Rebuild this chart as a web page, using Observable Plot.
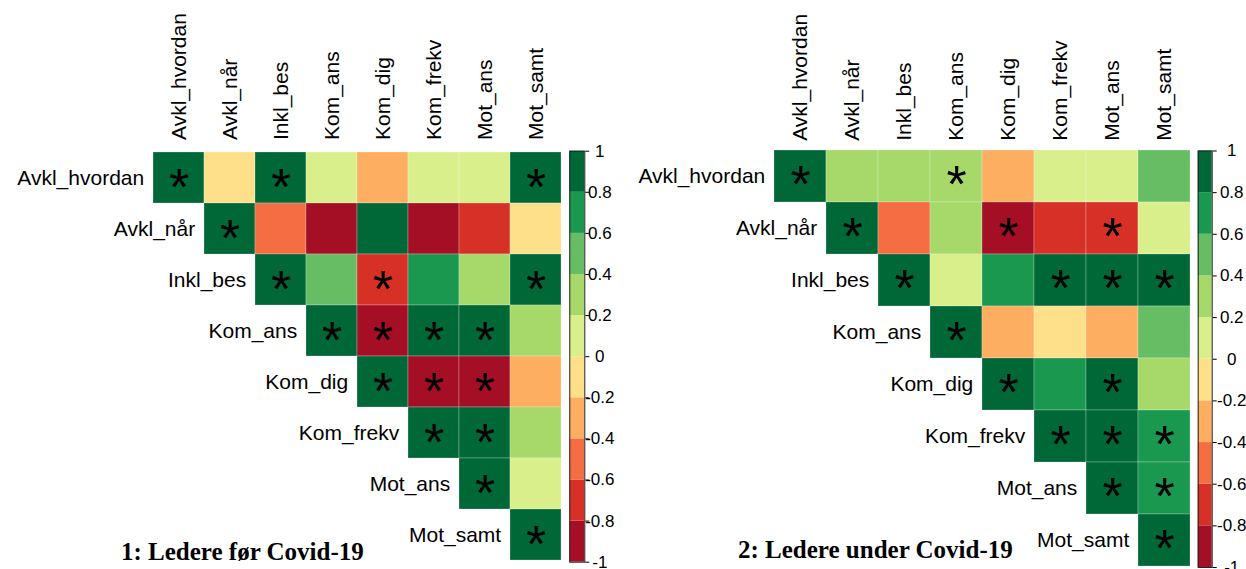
<!DOCTYPE html>
<html>
<head>
<meta charset="utf-8">
<script src="https://cdn.jsdelivr.net/npm/d3@7"></script>
<script src="https://cdn.jsdelivr.net/npm/@observablehq/plot@0.6"></script>
<style>
  html, body { margin: 0; padding: 0; background: #fff; }
  #wrap { position: relative; width: 1246px; height: 569px; overflow: hidden; background: #fff; }
  .title { font-family: "Liberation Serif", "Times New Roman", serif; font-weight: bold; font-size: 25px; line-height: 25px; white-space: nowrap; color: #000; }
</style>
</head>
<body>
<div id="wrap"></div>
<script>
// ---------------- data ----------------
const variables = ["Avkl_hvordan", "Avkl_når", "Inkl_bes", "Kom_ans", "Kom_dig", "Kom_frekv", "Mot_ans", "Mot_samt"];

// upper triangle, row i holds columns i..7
const beforeValues = [
  [1, -0.12, 0.88, 0.11, -0.31, 0.09, 0.12, 0.91],
  [1, -0.52, -0.92, 0.86, -0.88, -0.71, -0.08],
  [1, 0.49, -0.69, 0.72, 0.31, 0.93],
  [1, -0.91, 0.89, 0.92, 0.28],
  [1, -0.87, -0.9, -0.33],
  [1, 0.91, 0.29],
  [1, 0.12],
  [1]
];
const beforeSig = [
  [1, 0, 1, 0, 0, 0, 0, 1],
  [1, 0, 0, 0, 0, 0, 0],
  [1, 0, 1, 0, 0, 1],
  [1, 1, 1, 1, 0],
  [1, 1, 1, 0],
  [1, 1, 0],
  [1, 0],
  [1]
];

const duringValues = [
  [1, 0.31, 0.28, 0.33, -0.29, 0.11, 0.13, 0.48],
  [1, -0.51, 0.27, -0.88, -0.69, -0.73, 0.09],
  [1, 0.12, 0.71, 0.89, 0.92, 0.9],
  [1, -0.32, -0.11, -0.31, 0.49],
  [1, 0.68, 0.87, 0.29],
  [1, 0.91, 0.72],
  [1, 0.69],
  [1]
];
const duringSig = [
  [1, 0, 0, 1, 0, 0, 0, 0],
  [1, 0, 0, 1, 0, 1, 0],
  [1, 0, 0, 1, 1, 1],
  [1, 0, 0, 0, 0],
  [1, 0, 1, 0],
  [1, 1, 1],
  [1, 1],
  [1]
];

const ticks = [-1, -0.8, -0.6, -0.4, -0.2, 0, 0.2, 0.4, 0.6, 0.8, 1];
const palette = ["#a50f26", "#d73027", "#f46d43", "#fdae61", "#fee08b", "#d9ef8b", "#a6d96a", "#66bd63", "#1a9850", "#006837"];
const titles = ["1: Ledere før Covid-19", "2: Ledere under Covid-19"];

// ---------------- helpers ----------------
const FONT = "'Liberation Sans', Arial, sans-serif";
const colorScale = {type: "threshold", domain: ticks.slice(1, -1), range: palette};

function tidy(values, sig) {
  const out = [];
  values.forEach((row, i) => row.forEach((v, k) => {
    const j = i + k;
    out.push({row: variables[i], col: variables[j], value: v, sig: sig[i][k] === 1});
  }));
  return out;
}

function heatmap(values, sig, g) {
  const data = tidy(values, sig);
  const bw = (g.width - g.ml - g.mr) / variables.length;
  return Plot.plot({
    width: g.width, height: g.height,
    marginLeft: g.ml, marginRight: g.mr, marginTop: g.mt, marginBottom: g.mb,
    style: {fontFamily: FONT, fontSize: "21px", background: "transparent", overflow: "visible"},
    x: {type: "band", domain: variables, padding: 0, axis: null},
    y: {type: "band", domain: variables, padding: 0, axis: null},
    color: colorScale,
    marks: [
      Plot.cell(data, {x: "col", y: "row", fill: "value", stroke: "#ffffff", strokeOpacity: 0.35, strokeWidth: 0.7}),
      Plot.text(data.filter(d => d.sig), {x: "col", y: "row", text: () => "*", fontSize: 52, fill: "#000", dy: g.starDy}),
      Plot.text(variables, {x: d => d, y: d => d, text: d => d, textAnchor: "end", dx: -(bw / 2 + 9), fontSize: 21, fill: "#000"}),
      Plot.axisX({anchor: "top", tickRotate: -90, tickSize: 0, tickPadding: 9, fontSize: 21, label: null})
    ]
  });
}

function colorbar(g) {
  const bins = ticks.slice(0, -1).map((t, i) => ({lo: t, hi: ticks[i + 1], mid: (t + ticks[i + 1]) / 2}));
  return Plot.plot({
    width: g.width, height: g.height,
    marginLeft: g.ml, marginRight: g.mr, marginTop: g.mt, marginBottom: g.mb,
    style: {fontFamily: FONT, fontSize: "17px", background: "transparent", overflow: "visible"},
    x: {domain: [0, 1], axis: null},
    y: {domain: [-1, 1], axis: null},
    color: colorScale,
    marks: [
      Plot.rect(bins, {x1: 0, x2: 1, y1: "lo", y2: "hi", fill: "mid"}),
      Plot.frame({stroke: "#222", strokeWidth: 1}),
      Plot.axisY(ticks, {anchor: "right", tickSize: 4, tickPadding: g.labelPad, textAnchor: "middle",
        tickFormat: d => String(+d.toFixed(1)), fontSize: 17})
    ]
  });
}

const wrap = document.getElementById("wrap");
function place(el, left, top) {
  el.style.position = "absolute";
  el.style.left = left + "px";
  el.style.top = top + "px";
  el.style.maxWidth = "none";
  wrap.appendChild(el);
}

// left panel
place(heatmap(beforeValues, beforeSig, {width: 570, height: 569, ml: 150.5, mr: 6.7, mt: 148.5, mb: 6.3, starDy: 10}), 0, 0);
place(colorbar({width: 70, height: 569, ml: 9.3, mr: 45.7, mt: 150.7, mb: 7.3, labelPad: 11}), 560, 0);
// right panel
place(heatmap(duringValues, duringSig, {width: 580, height: 569, ml: 152.3, mr: 8, mt: 149.3, mb: 2, starDy: 9}), 620, 0);
place(colorbar({width: 70, height: 569, ml: 7.7, mr: 48.3, mt: 150.5, mb: 2, labelPad: 15.5}), 1190, 0);

// titles
const t1 = document.createElement("div");
t1.className = "title"; t1.textContent = titles[0];
place(t1, 121, 539);
const t2 = document.createElement("div");
t2.className = "title"; t2.textContent = titles[1];
place(t2, 738, 537);
</script>
</body>
</html>
